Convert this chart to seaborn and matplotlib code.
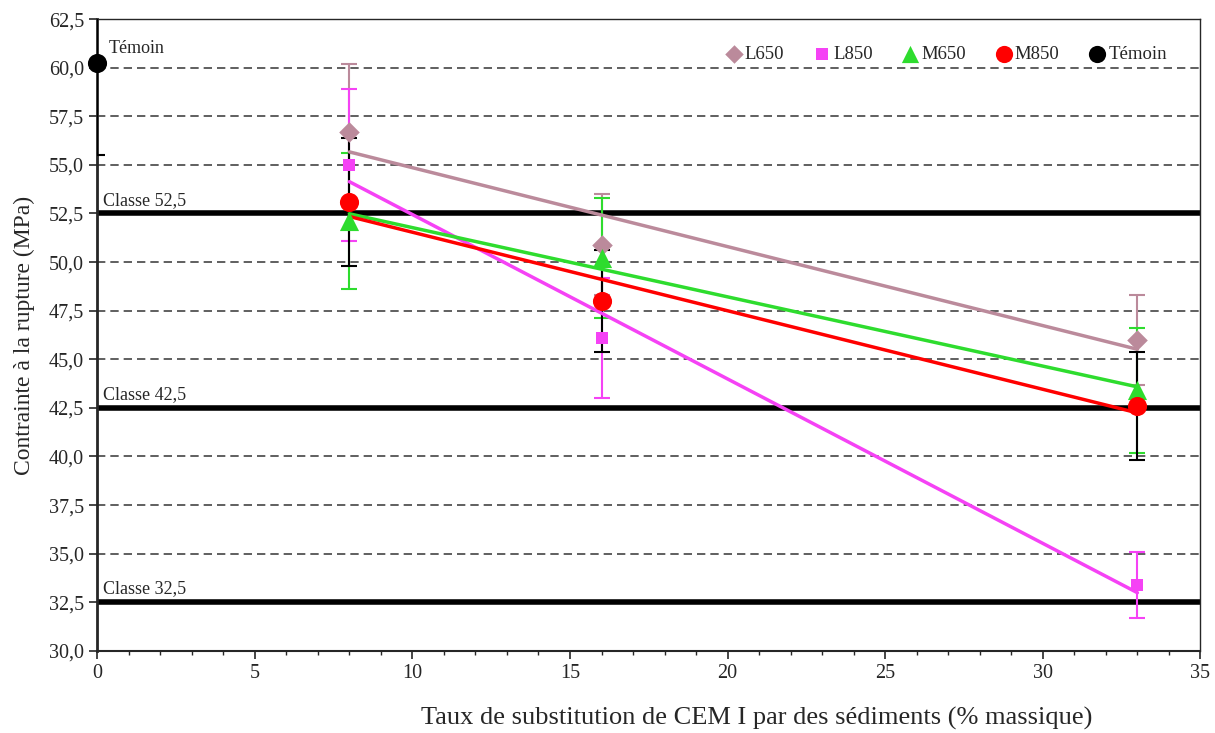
import numpy as np
import pandas as pd
import matplotlib
matplotlib.use("Agg")
import matplotlib.pyplot as plt
import seaborn as sns
from matplotlib.ticker import FuncFormatter, MultipleLocator

# substitution rates (% massique)
taux = [8, 16, 33]

# compressive strength (MPa) and error bars
l650 = [56.7, 50.9, 46.0]
l650_err = [3.5, 2.6, 2.3]
l850 = [55.0, 46.1, 33.4]
l850_err = [3.9, 3.1, 1.7]
m650 = [52.1, 50.2, 43.4]
m650_err = [3.5, 3.1, 3.2]
m850 = [53.1, 48.0, 42.6]
m850_err = [3.3, 2.6, 2.8]

temoin_x = [0]
temoin = [60.25]
temoin_err = [4.75]

classes = [52.5, 42.5, 32.5]
classe_labels = ["Classe 52,5", "Classe 42,5", "Classe 32,5"]

sns.set_style("ticks")
plt.rcParams['font.family'] = ['Liberation Serif', 'DejaVu Serif']

fig = plt.figure(figsize=(12.15, 7.33), dpi=100)
ax = fig.add_axes([0.08, 0.112, 0.908, 0.862])

series = [
    ("L650", l650, l650_err, "#BB8A9B", "D", 110, "#BB8A9B", 2.5),
    ("L850", l850, l850_err, "#F542F5", "s", 85, "#F542F5", 2.5),
    ("M650", m650, m650_err, "#2EDC2E", "^", 190, "#2EDC2E", 2.5),
    ("M850", m850, m850_err, "#FF0000", "o", 190, "#000000", 2.5),
]

# dashed horizontal grid
ax.yaxis.grid(True, ls=(0, (5, 3)), color="#444444", lw=1.2)
ax.set_axisbelow(True)

# class thresholds
for c, lab in zip(classes, classe_labels):
    ax.axhline(c, color="black", lw=4, zorder=2)
    ax.text(0.17, c + 0.25, lab, fontsize=13, va="bottom", ha="left")

# error bars
for name, vals, err, col, mk, sz, ecol, lw in series:
    ax.errorbar(taux, vals, yerr=err, fmt="none", ecolor=ecol, elinewidth=1.5,
                capsize=6, capthick=1.5, zorder=3)
ax.errorbar(temoin_x, temoin, yerr=temoin_err, fmt="none", ecolor="black",
            elinewidth=1.5, capsize=6, capthick=1.5, zorder=3)

# linear trend lines
for name, vals, err, col, mk, sz, ecol, lw in series:
    df = pd.DataFrame({"x": taux, "y": vals})
    sns.regplot(data=df, x="x", y="y", ax=ax, ci=None, scatter=False,
                truncate=True, line_kws=dict(color=col, lw=lw, zorder=4))

# markers
for name, vals, err, col, mk, sz, ecol, lw in series:
    sns.scatterplot(x=taux, y=vals, ax=ax, marker=mk, s=sz, color=col,
                    edgecolor=col, linewidth=0, label=name, zorder=5)
sns.scatterplot(x=temoin_x, y=temoin, ax=ax, marker="o", s=190, color="black",
                edgecolor="black", linewidth=0, label="Témoin", zorder=6,
                clip_on=False)

ax.text(0.35, 61.0, "Témoin", fontsize=13, va="center", ha="left")

ax.set_xlim(0, 35)
ax.set_ylim(30, 62.5)
ax.xaxis.set_major_locator(MultipleLocator(5))
ax.xaxis.set_minor_locator(MultipleLocator(1))
ax.yaxis.set_major_locator(MultipleLocator(2.5))
ax.yaxis.set_major_formatter(FuncFormatter(lambda v, p: f"{v:.1f}".replace(".", ",")))
ax.tick_params(axis="both", which="major", labelsize=14.5, direction="out",
               length=6, width=1.2)
ax.tick_params(axis="x", which="minor", direction="out", length=3, width=1.0)

ax.set_xlabel("Taux de substitution de CEM I par des sédiments (% massique)",
              fontsize=19)
ax.xaxis.set_label_coords(0.598, -0.088)
ax.set_ylabel("Contrainte à la rupture (MPa)", fontsize=17, labelpad=10)

for s in ["top", "right"]:
    ax.spines[s].set_visible(True)
    ax.spines[s].set_linewidth(1.0)
ax.spines["left"].set_linewidth(2.0)
ax.spines["bottom"].set_linewidth(1.5)

ax.legend(loc="upper right", ncol=5, frameon=False, fontsize=13.5,
          handletextpad=0.0, handlelength=1.2, columnspacing=1.4,
          bbox_to_anchor=(0.985, 0.985), markerscale=0.9)

fig.savefig("out.png", dpi=100)
